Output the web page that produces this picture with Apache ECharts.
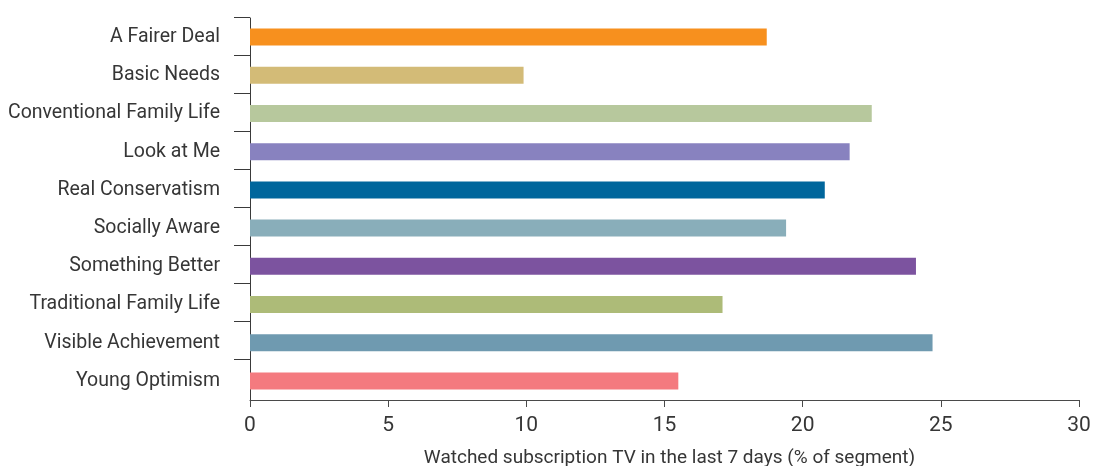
<!DOCTYPE html>
<html>
<head>
<meta charset="utf-8">
<script src="https://cdn.jsdelivr.net/npm/echarts@6/dist/echarts.min.js"></script>
<style>
  html, body { margin: 0; padding: 0; background: #ffffff; }
  #chart { width: 1094px; height: 466px; }
</style>
</head>
<body>
<div id="chart"></div>
<script>
// Segments, listed top to bottom
const categories = [
  'A Fairer Deal',
  'Basic Needs',
  'Conventional Family Life',
  'Look at Me',
  'Real Conservatism',
  'Socially Aware',
  'Something Better',
  'Traditional Family Life',
  'Visible Achievement',
  'Young Optimism'
];

// Watched subscription TV in the last 7 days (% of segment)
const values = [18.7, 9.9, 22.5, 21.7, 20.8, 19.4, 24.1, 17.1, 24.7, 15.5];

// One colour per segment
const barColors = [
  '#F7901E', '#D3BB77', '#B7C89D', '#8882BF', '#00669C',
  '#89AEBA', '#7C539F', '#ADBB78', '#6F9AB0', '#F47A7F'
];

// Value axis ticks
const xTicks = { min: 0, max: 30, interval: 5 };
const xTitle = 'Watched subscription TV in the last 7 days (% of segment)';

const FONT = 'Roboto, "Noto Sans", sans-serif';
const TEXT = '#363636';
const AXIS = '#3a3a3a';

const chart = echarts.init(document.getElementById('chart'), null, { renderer: 'canvas' });

chart.setOption({
  animation: false,
  backgroundColor: '#ffffff',
  textStyle: { fontFamily: FONT },
  grid: [
    // bars, labels and the value axis
    { left: 250, right: 15, top: 18, bottom: 66, containLabel: false, outerBoundsMode: 'none' },
    // separator ticks on the category axis
    { left: 250, right: 15, top: 17, bottom: 107, containLabel: false, outerBoundsMode: 'none' }
  ],
  xAxis: [
    {
      type: 'value',
      gridIndex: 0,
      min: xTicks.min,
      max: xTicks.max,
      interval: xTicks.interval,
      splitLine: { show: false },
      axisLine: { show: true, lineStyle: { color: '#4a4a4a', width: 1 } },
      axisTick: { show: true, length: 7, lineStyle: { color: '#4a4a4a', width: 1 } },
      axisLabel: { color: TEXT, fontSize: 21, fontFamily: FONT, margin: 15 },
      name: xTitle,
      nameLocation: 'middle',
      nameGap: 49,
      nameTextStyle: { color: TEXT, fontSize: 19, fontFamily: FONT, padding: [0, 0, 0, 10] }
    },
    {
      type: 'value',
      gridIndex: 1,
      min: 0,
      max: 1,
      show: false
    }
  ],
  yAxis: [
    {
      type: 'category',
      gridIndex: 0,
      inverse: true,
      data: categories,
      axisLine: { show: true, lineStyle: { color: AXIS, width: 1 } },
      axisTick: { show: false },
      axisLabel: { color: TEXT, fontSize: 19.5, fontFamily: FONT, margin: 30 },
      splitLine: { show: false }
    },
    {
      type: 'category',
      gridIndex: 1,
      inverse: true,
      boundaryGap: false,
      data: categories.map(() => ''),
      axisLine: { show: false },
      axisLabel: { show: false },
      axisTick: { show: true, length: 16, lineStyle: { color: AXIS, width: 1 } },
      splitLine: { show: false }
    }
  ],
  series: [
    {
      type: 'bar',
      xAxisIndex: 0,
      yAxisIndex: 0,
      barWidth: 17,
      data: values.map((v, i) => ({ value: v, itemStyle: { color: barColors[i] } })),
      label: { show: false }
    }
  ]
});
</script>
</body>
</html>
